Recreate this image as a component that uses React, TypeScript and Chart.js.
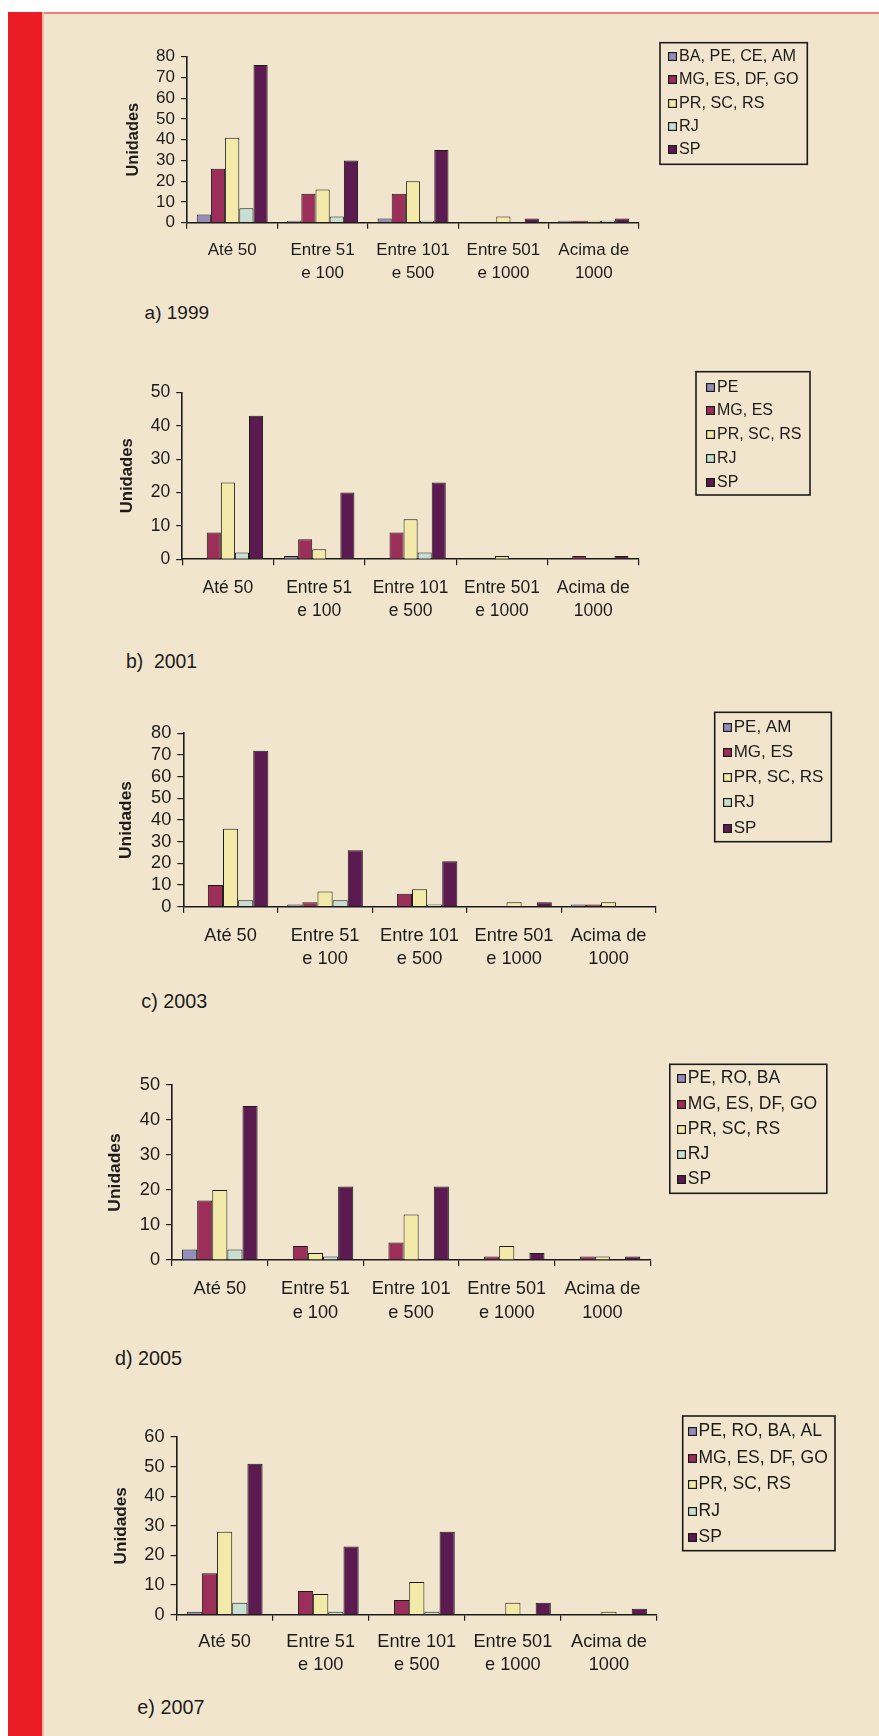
import { useEffect, useRef } from "react";
import { Chart, registerables } from "chart.js";

Chart.register(...registerables);

const FONT = "'Liberation Sans', Arial, Helvetica, sans-serif";
const INK = "#1d1b1a";
const PAGE_W = 879;
const PAGE_H = 1736;

// Establishment size classes (category axis)
const sizeClasses: (string | string[])[] = [
  "Até 50",
  ["Entre 51", "e 100"],
  ["Entre 101", "e 500"],
  ["Entre 501", "e 1000"],
  ["Acima de", "1000"],
];

const yAxisTitle = "Unidades";

// Fill colours of the five regional groups, in legend order
const groupColors = ["#958DBB", "#9B2F5A", "#F3E9A9", "#C7E0D3", "#5B1A50"];

// a) 1999
const regions1999 = ["BA, PE, CE, AM", "MG, ES, DF, GO", "PR, SC, RS", "RJ", "SP"];
const units1999G1 = [4, 1, 2, 0, 1];
const units1999G2 = [26, 14, 14, 0, 1];
const units1999G3 = [41, 16, 20, 3, 1];
const units1999G4 = [7, 3, 1, 0, 1];
const units1999G5 = [76, 30, 35, 2, 2];

// b) 2001
const regions2001 = ["PE", "MG, ES", "PR, SC, RS", "RJ", "SP"];
const units2001G1 = [0, 1, 0, 0, 0];
const units2001G2 = [8, 6, 8, 0, 1];
const units2001G3 = [23, 3, 12, 1, 0];
const units2001G4 = [2, 0, 2, 0, 0];
const units2001G5 = [43, 20, 23, 0, 1];

// c) 2003
const regions2003 = ["PE, AM", "MG, ES", "PR, SC, RS", "RJ", "SP"];
const units2003G1 = [0, 1, 0, 0, 1];
const units2003G2 = [10, 2, 6, 0, 1];
const units2003G3 = [36, 7, 8, 2, 2];
const units2003G4 = [3, 3, 1, 0, 0];
const units2003G5 = [72, 26, 21, 2, 0];

// d) 2005
const regions2005 = ["PE, RO, BA", "MG, ES, DF, GO", "PR, SC, RS", "RJ", "SP"];
const units2005G1 = [3, 0, 0, 0, 0];
const units2005G2 = [17, 4, 5, 1, 1];
const units2005G3 = [20, 2, 13, 4, 1];
const units2005G4 = [3, 1, 0, 0, 0];
const units2005G5 = [44, 21, 21, 2, 1];

// e) 2007
const regions2007 = ["PE, RO, BA, AL", "MG, ES, DF, GO", "PR, SC, RS", "RJ", "SP"];
const units2007G1 = [1, 0, 0, 0, 0];
const units2007G2 = [14, 8, 5, 0, 0];
const units2007G3 = [28, 7, 11, 4, 1];
const units2007G4 = [4, 1, 1, 0, 0];
const units2007G5 = [51, 23, 28, 4, 2];

const yMaxByYear = [80, 50, 80, 50, 60];
const captions = ["a) 1999", "b)  2001", "c) 2003", "d) 2005", "e) 2007"];

type LegendBox = {
  left: number;
  top: number;
  width: number;
  height: number;
  row0: number;
  rowGap: number;
  textDx: number;
  px: number;
};

type Frame = {
  plotLeft: number;
  plotTop: number;
  plotRight: number;
  plotBottom: number;
  yTitleX: number;
  titlePx: number;
  tickPx: number;
  labelPad: number;
  labelLine: number;
  barShare: number;
  legend: LegendBox;
  caption: { x: number; y: number; px: number };
};

// Page geometry of each panel
const frames: Frame[] = [
  {
    plotLeft: 187, plotTop: 56.7, plotRight: 639, plotBottom: 222.7,
    yTitleX: 133, titlePx: 16.4, tickPx: 17, labelPad: 10.7, labelLine: 22.5, barShare: 0.785,
    legend: { left: 660, top: 42.7, width: 147.3, height: 121.6, row0: 56, rowGap: 23.3, textDx: 19, px: 16.2 },
    caption: { x: 144.6, y: 313.3, px: 19 },
  },
  {
    plotLeft: 182.2, plotTop: 392.3, plotRight: 639, plotBottom: 559.3,
    yTitleX: 127.8, titlePx: 16.7, tickPx: 17.5, labelPad: 11.7, labelLine: 22.5, barShare: 0.77,
    legend: { left: 696, top: 371.7, width: 114, height: 123.3, row0: 386.7, rowGap: 23.75, textDx: 21, px: 16 },
    caption: { x: 126, y: 661, px: 19.4 },
  },
  {
    plotLeft: 183.3, plotTop: 733.3, plotRight: 655.8, plotBottom: 906.7,
    yTitleX: 126.1, titlePx: 17.3, tickPx: 18.2, labelPad: 11.8, labelLine: 23, barShare: 0.8,
    legend: { left: 714.7, top: 712.3, width: 116.6, height: 129.4, row0: 726.7, rowGap: 25.2, textDx: 19, px: 17 },
    caption: { x: 141.3, y: 1001, px: 19.8 },
  },
  {
    plotLeft: 172, plotTop: 1085, plotRight: 650.2, plotBottom: 1260,
    yTitleX: 114.9, titlePx: 17.4, tickPx: 18.2, labelPad: 11.3, labelLine: 24, barShare: 0.79,
    legend: { left: 669.8, top: 1064.3, width: 157, height: 129, row0: 1078.3, rowGap: 25.3, textDx: 18, px: 17.5 },
    caption: { x: 115, y: 1358.3, px: 19.8 },
  },
  {
    plotLeft: 176.6, plotTop: 1437, plotRight: 657, plotBottom: 1614.7,
    yTitleX: 121.6, titlePx: 17.2, tickPx: 18.2, labelPad: 9.8, labelLine: 23, barShare: 0.79,
    legend: { left: 682.7, top: 1416, width: 152.3, height: 134.7, row0: 1431, rowGap: 26.5, textDx: 15.8, px: 17.5 },
    caption: { x: 137.3, y: 1707, px: 19.8 },
  },
];

const panels = [
  { regions: regions1999, series: [units1999G1, units1999G2, units1999G3, units1999G4, units1999G5] },
  { regions: regions2001, series: [units2001G1, units2001G2, units2001G3, units2001G4, units2001G5] },
  { regions: regions2003, series: [units2003G1, units2003G2, units2003G3, units2003G4, units2003G5] },
  { regions: regions2005, series: [units2005G1, units2005G2, units2005G3, units2005G4, units2005G5] },
  { regions: regions2007, series: [units2007G1, units2007G2, units2007G3, units2007G4, units2007G5] },
];

// Framed legend drawn at a fixed spot, built from the chart's own datasets
const boxedLegend = {
  id: "boxedLegend",
  afterDraw(chart: any, _args: any, opts: any) {
    const ctx: CanvasRenderingContext2D = chart.ctx;
    ctx.save();
    ctx.strokeStyle = INK;
    ctx.lineWidth = 1.6;
    ctx.strokeRect(opts.left, opts.top, opts.width, opts.height);
    ctx.font = `${opts.px}px ${FONT}`;
    ctx.textBaseline = "middle";
    ctx.textAlign = "left";
    chart.data.datasets.forEach((ds: any, i: number) => {
      const cy = Math.round(opts.row0 + i * opts.rowGap);
      const sx = Math.round(opts.left + opts.textDx - 11);
      ctx.fillStyle = INK;
      ctx.fillRect(sx, cy - 4, 9, 9);
      ctx.fillStyle = ds.backgroundColor;
      ctx.fillRect(sx + 1.2, cy - 2.8, 6.6, 6.6);
      ctx.fillStyle = INK;
      ctx.fillText(ds.label, opts.left + opts.textDx, cy + 0.5);
    });
    ctx.restore();
  },
};

function BarPanel({ index }: { index: number }) {
  const ref = useRef<HTMLCanvasElement | null>(null);
  const f = frames[index];
  const p = panels[index];
  const canvasTop = Math.floor(Math.min(f.plotTop, f.legend.top) - 14);
  const canvasBottom = Math.ceil(f.plotBottom + 2 * f.labelLine + 34);
  const canvasH = canvasBottom - canvasTop;

  useEffect(() => {
    if (!ref.current) return;
    const lg = f.legend;
    const chart = new Chart(ref.current, {
      type: "bar",
      data: {
        labels: sizeClasses as any,
        datasets: p.series.map((values, i) => ({
          label: p.regions[i],
          data: values,
          backgroundColor: groupColors[i],
          borderColor: INK,
          borderWidth: 1,
          categoryPercentage: f.barShare,
          barPercentage: 1,
        })),
      },
      options: {
        responsive: false,
        animation: false,
        devicePixelRatio: 1,
        events: [],
        layout: {
          padding: { left: 0, top: f.plotTop - canvasTop, right: PAGE_W - f.plotRight, bottom: 0 },
        },
        plugins: {
          legend: { display: false },
          tooltip: { enabled: false },
          title: { display: false },
          boxedLegend: {
            left: lg.left,
            top: lg.top - canvasTop,
            width: lg.width,
            height: lg.height,
            row0: lg.row0 - canvasTop,
            rowGap: lg.rowGap,
            textDx: lg.textDx,
            px: lg.px,
          },
        } as any,
        scales: {
          x: {
            type: "category",
            grid: { offset: true, drawOnChartArea: false, drawTicks: true, tickLength: 6, color: INK, lineWidth: 1.2 },
            border: { display: true, color: INK, width: 1.6 },
            ticks: {
              color: INK,
              font: { family: FONT, size: f.tickPx, lineHeight: `${f.labelLine}px` },
              padding: f.labelPad,
              maxRotation: 0,
              minRotation: 0,
              autoSkip: false,
            },
            afterFit: (s: any) => {
              s.height = canvasH - (f.plotBottom - canvasTop);
            },
          },
          y: {
            type: "linear",
            min: 0,
            max: yMaxByYear[index],
            grid: { drawOnChartArea: false, drawTicks: true, tickLength: 6, color: INK, lineWidth: 1.2 },
            border: { display: true, color: INK, width: 1.6 },
            ticks: {
              stepSize: 10,
              autoSkip: false,
              color: INK,
              font: { family: FONT, size: f.tickPx, lineHeight: 1 },
              padding: 6,
            },
            title: {
              display: true,
              text: yAxisTitle,
              color: INK,
              font: { family: FONT, size: f.titlePx, weight: "bold", lineHeight: 1.2 },
              padding: { top: f.yTitleX - (f.titlePx * 1.2) / 2, bottom: 0 },
            },
            afterFit: (s: any) => {
              s.width = f.plotLeft;
            },
          },
        },
      } as any,
      plugins: [boxedLegend as any],
    });
    return () => chart.destroy();
  }, []);

  return (
    <canvas
      ref={ref}
      width={PAGE_W}
      height={canvasH}
      style={{ position: "absolute", left: 0, top: canvasTop, width: PAGE_W, height: canvasH }}
    />
  );
}

export default function App() {
  return (
    <div
      style={{
        position: "absolute",
        left: 0,
        top: 0,
        width: PAGE_W,
        height: PAGE_H,
        overflow: "hidden",
        background: "#ffffff",
        fontFamily: FONT,
      }}
    >
      {/* beige sheet with its thin rose top rule */}
      <div style={{ position: "absolute", left: 8, top: 12, width: PAGE_W - 8, height: PAGE_H - 12, background: "#F1E6CD" }} />
      <div style={{ position: "absolute", left: 42, top: 12, width: PAGE_W - 42, height: 2, background: "#EE7E76" }} />
      <div style={{ position: "absolute", left: 42, top: 12, width: 1.5, height: PAGE_H - 12, background: "#F3B9A6" }} />
      {/* red side band */}
      <div style={{ position: "absolute", left: 8, top: 12, width: 34, height: PAGE_H - 12, background: "#EC1C25" }} />
      {frames.map((f, i) => (
        <div
          key={`cap${i}`}
          style={{
            position: "absolute",
            left: f.caption.x,
            top: f.caption.y - 12,
            height: 24,
            lineHeight: "24px",
            fontSize: f.caption.px,
            color: INK,
            whiteSpace: "pre",
          }}
        >
          {captions[i]}
        </div>
      ))}
      {frames.map((_, i) => (
        <BarPanel key={`panel${i}`} index={i} />
      ))}
    </div>
  );
}
